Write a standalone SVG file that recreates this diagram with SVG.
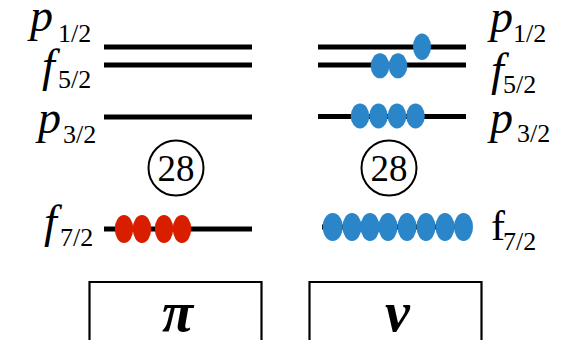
<svg xmlns="http://www.w3.org/2000/svg" width="562" height="340" viewBox="0 0 562 340">
<style>
.lvl{stroke:#000;stroke-width:5;fill:none}
.ring{fill:none;stroke:#000;stroke-width:2}
.box{fill:none;stroke:#000;stroke-width:2.2}
.r{fill:#d91e00}
.b{fill:#2a86c8}
</style>
<g id="connectors">
<line class="lvl" x1="104" y1="47" x2="252" y2="47"/>
<line class="lvl" x1="104" y1="65" x2="252" y2="65"/>
<line class="lvl" x1="104" y1="117" x2="252" y2="117"/>
<line class="lvl" x1="104" y1="229" x2="252" y2="229"/>
<line class="lvl" x1="318" y1="47" x2="466" y2="47"/>
<line class="lvl" x1="318" y1="65" x2="466" y2="65"/>
<line class="lvl" x1="318" y1="116.5" x2="466" y2="116.5"/>
<line class="lvl" x1="322" y1="227" x2="466" y2="227"/>
</g>
<g id="labels-left" font-family="Liberation Serif" fill="#000">
<text x="30" y="31" font-size="46" font-style="italic">p</text><text x="58" y="42" font-size="26">1/2</text>
<text x="42" y="81" font-size="46" font-style="italic">f</text><text x="58" y="88" font-size="26">5/2</text>
<text x="38" y="133" font-size="46" font-style="italic">p</text><text x="63" y="143" font-size="26">3/2</text>
<text x="44" y="237" font-size="46" font-style="italic">f</text><text x="60" y="246" font-size="26">7/2</text>
</g>
<g id="labels-right" font-family="Liberation Serif" fill="#000">
<text x="490" y="32" font-size="46" font-style="italic">p</text><text x="513" y="42" font-size="26">1/2</text>
<text x="491" y="85" font-size="46" font-style="italic">f</text><text x="503" y="93" font-size="26">5/2</text>
<text x="490" y="133" font-size="46" font-style="italic">p</text><text x="517" y="142" font-size="26">3/2</text>
<text x="491" y="240" font-size="42">f</text><text x="503" y="250" font-size="26">7/2</text>
</g>
<g id="magic-left">
<circle class="ring" cx="176" cy="168" r="27.5"/>
<text x="176" y="181" font-family="Liberation Serif" font-size="37" text-anchor="middle">28</text>
</g>
<g id="magic-right">
<circle class="ring" cx="389" cy="168" r="27.5"/>
<text x="389" y="181" font-family="Liberation Serif" font-size="37" text-anchor="middle">28</text>
</g>
<g id="protons">
<ellipse class="r" cx="124" cy="229" rx="9.2" ry="14"/>
<ellipse class="r" cx="142" cy="229" rx="9.2" ry="14"/>
<ellipse class="r" cx="164" cy="229" rx="9.2" ry="14"/>
<ellipse class="r" cx="182" cy="229" rx="9.2" ry="14"/>
</g>
<g id="neutrons">
<ellipse class="b" cx="422" cy="46.7" rx="9" ry="13.3"/>
<ellipse class="b" cx="380" cy="65.8" rx="9.3" ry="12.5"/>
<ellipse class="b" cx="398" cy="65.8" rx="9.3" ry="12.5"/>
<ellipse class="b" cx="360" cy="116" rx="9.3" ry="12.5"/>
<ellipse class="b" cx="378.5" cy="116" rx="9.3" ry="12.5"/>
<ellipse class="b" cx="397" cy="116" rx="9.3" ry="12.5"/>
<ellipse class="b" cx="415.5" cy="116" rx="9.3" ry="12.5"/>
<ellipse class="b" cx="332.7" cy="227" rx="10" ry="14"/>
<ellipse class="b" cx="352" cy="227" rx="9.5" ry="14"/>
<ellipse class="b" cx="370" cy="227" rx="9.5" ry="14"/>
<ellipse class="b" cx="388" cy="227" rx="9.5" ry="14"/>
<ellipse class="b" cx="407" cy="227" rx="9.5" ry="14"/>
<ellipse class="b" cx="426" cy="227" rx="9.5" ry="14"/>
<ellipse class="b" cx="445" cy="227" rx="9.5" ry="14"/>
<ellipse class="b" cx="463.5" cy="227" rx="9.5" ry="14"/>
</g>
<g id="box-pi">
<path class="box" d="M89.5,342 V282 H261.5 V342"/>
<text x="177.5" y="331" font-family="Liberation Serif" font-size="57" font-weight="bold" font-style="italic" text-anchor="middle">π</text>
</g>
<g id="box-nu">
<path class="box" d="M309.5,342 V282 H481.5 V342"/>
<text x="397.5" y="331" font-family="Liberation Serif" font-size="56" font-weight="bold" font-style="italic" text-anchor="middle">ν</text>
</g>
</svg>
